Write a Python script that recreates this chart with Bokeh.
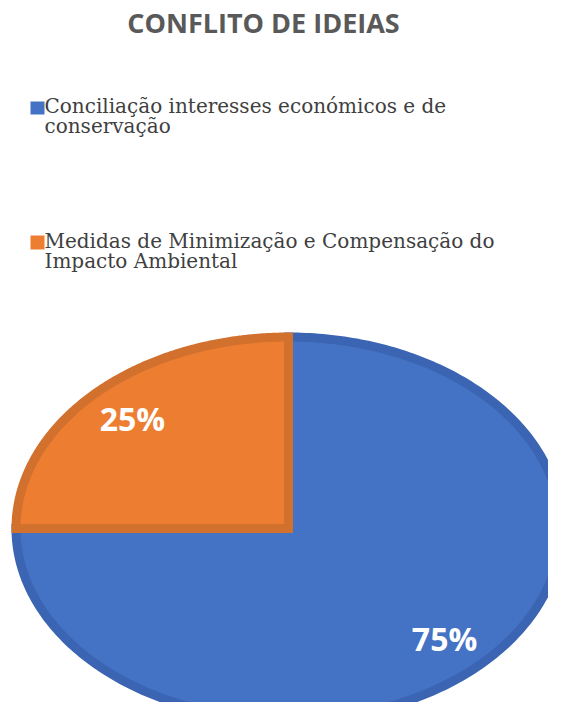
import numpy as np
from bokeh.plotting import figure
from bokeh.models import ColumnDataSource, Label, BoxAnnotation, Range1d
from bokeh.core.properties import value
from bokeh.embed import file_html
from bokeh.resources import INLINE

# ---- data ----
title_text = "CONFLITO DE IDEIAS"
categories = ["Conciliação interesses económicos e de conservação",
              "Medidas de Minimização e Compensação do Impacto Ambiental"]
legend_lines = [["Conciliação interesses económicos e de", "conservação"],
                ["Medidas de Minimização e Compensação do", "Impacto Ambiental"]]
values = [75, 25]
fill_colors = ["#4472C4", "#ED7D31"]
edge_colors = ["#3B65B2", "#D2702E"]

# ---- layout ----
W, H = 548, 702
cx_px, cy_px = 288, 174      # pie centre in frame pixels (from bottom-left)
rx_px, ry_px = 272.5, 191.5  # ellipse radii in pixels

p = figure(width=W, height=H, output_backend="svg", toolbar_location=None,
           min_border=0, outline_line_color=None)
p.x_range = Range1d(-cx_px / rx_px, (W - cx_px) / rx_px)
p.y_range = Range1d(-cy_px / ry_px, (H - cy_px) / ry_px)
p.xaxis.visible = False
p.yaxis.visible = False
p.grid.visible = False
p.background_fill_color = "white"
p.border_fill_color = "white"

# ---- slices (clockwise from 12 o'clock) ----
total = float(sum(values))
fracs = [v / total for v in values]
xs, ys, lx, ly, ltxt = [], [], [], [], []
cum = 0.0
for f, v in zip(fracs, values):
    a0 = np.pi / 2 - 2 * np.pi * cum
    a1 = np.pi / 2 - 2 * np.pi * (cum + f)
    t = np.linspace(a0, a1, 300)
    xs.append([0.0] + list(np.cos(t)) + [0.0])
    ys.append([0.0] + list(np.sin(t)) + [0.0])
    am = (a0 + a1) / 2
    lx.append(0.81 * np.cos(am))
    ly.append(0.81 * np.sin(am))
    ltxt.append(f"{v}%")
    cum += f

src = ColumnDataSource(dict(xs=xs, ys=ys, fill=fill_colors, edge=edge_colors, cat=categories))
p.patches("xs", "ys", source=src, fill_color="fill", line_color="edge",
          line_width=9, line_join="miter")

lsrc = ColumnDataSource(dict(x=lx, y=ly, t=ltxt))
p.text("x", "y", text="t", source=lsrc, text_color="white",
       text_font=value("Open Sans"), text_font_style="bold",
       text_font_size="32px", text_align="center", text_baseline="middle")

# ---- title ----
p.add_layout(Label(x=263, y=680, x_units="screen", y_units="screen",
                   text=title_text, text_font="Open Sans", text_font_style="bold",
                   text_font_size="27px", text_color="#595959",
                   text_align="center", text_baseline="alphabetic"))

# ---- legend ----
sq = [(30, 44, 588, 601), (30, 44, 453, 467)]
base = [(597, 577), (462, 442)]
for i in range(2):
    l, r, b, tp = sq[i]
    p.add_layout(BoxAnnotation(left=l, right=r, bottom=b, top=tp,
                               left_units="screen", right_units="screen",
                               bottom_units="screen", top_units="screen",
                               fill_color=fill_colors[i], fill_alpha=1.0,
                               line_alpha=0))
    for j, line in enumerate(legend_lines[i]):
        p.add_layout(Label(x=44, y=base[i][j], x_units="screen", y_units="screen",
                           text=line, text_font="DejaVu Serif",
                           text_font_size="20px", text_color="#404040",
                           text_align="left", text_baseline="alphabetic"))

open("out.html", "w").write(file_html(p, INLINE))
